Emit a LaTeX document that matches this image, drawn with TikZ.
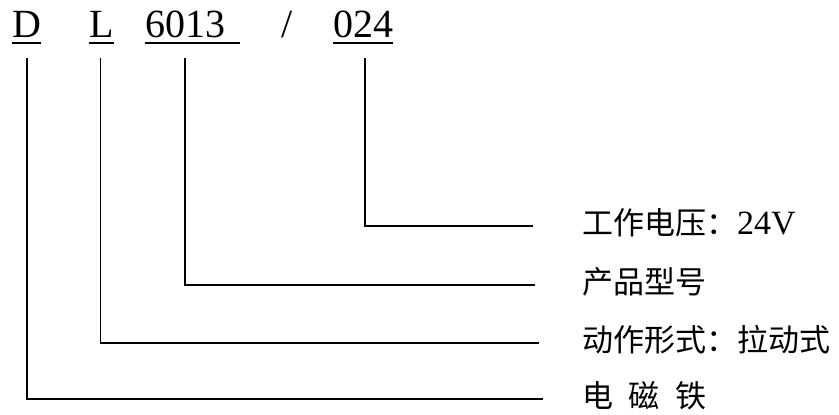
\documentclass[tikz,border=0pt]{standalone}
\usepackage{fontspec}
\setmainfont{Liberation Serif}
\newfontfamily\cjk{Noto Sans CJK SC}
\usetikzlibrary{calc}

\tikzset{
  code/.style={inner sep=0pt, anchor=base west, font=\fontsize{40}{44}\selectfont},
  lab/.style={inner sep=0pt, anchor=base west, font=\cjk\fontsize{31}{36}\selectfont},
  link/.style={line width=1.8pt},
  uline/.style={line width=1.8pt}
}

\begin{document}
\begin{tikzpicture}[x=1pt, y=-1pt]
  \useasboundingbox (0,0) rectangle (839,415);

  % model code on top
  \node[code] (d) at (12,37) {D};
  \node[code] (l) at (89,37) {L};
  \node[code] (model) at (145,37) {6013};
  \node[code] (slash) at (281,37) {/};
  \node[code] (volt) at (333,37) {024};

  \draw[uline] ([yshift=-6pt]d.base west) -- ([yshift=-6pt]d.base east);
  \draw[uline] ([yshift=-6pt]l.base west) -- ([yshift=-6pt]l.base east);
  \draw[uline] ([yshift=-6pt]model.base west) -- ([yshift=-6pt,xshift=15pt]model.base east);
  \draw[uline] ([yshift=-6pt]volt.base west) -- ([yshift=-6pt]volt.base east);

  % meanings
  \node[lab] (tvolt) at (582,234) {工作电压：{\rmfamily\fontsize{34}{36}\selectfont 24V}};
  \node[lab] (tmodel) at (582,293) {产品型号};
  \node[lab] (tact) at (582,351) {动作形式：拉动式};
  \node[lab] (tmag) at (582,407) {电\hspace{0.5em}磁\hspace{0.5em}铁};

  \coordinate (evolt) at (533,226);
  \coordinate (emodel) at (535,285);
  \coordinate (eact) at (539,343);
  \coordinate (emag) at (543,399);

  \draw[link] ($(volt.base)+(2,21)$) |- (evolt);
  \draw[link] ($(model.base)+(0,21)$) |- (emodel);
  \draw[link] ($(l.base)+(-1,21)$) |- (eact);
  \draw[link] ($(d.base)+(0,21)$) |- (emag);
\end{tikzpicture}
\end{document}
